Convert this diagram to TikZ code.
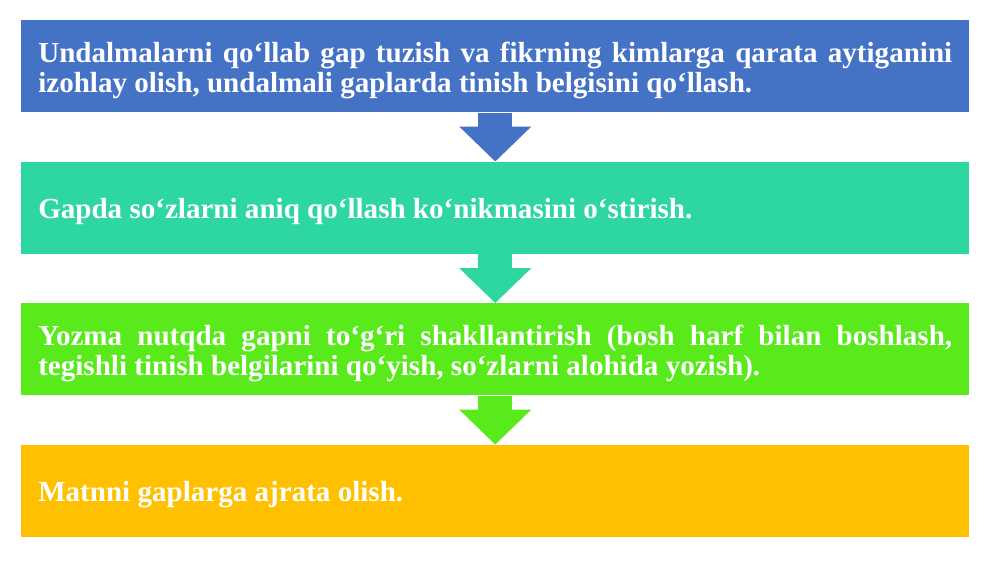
\documentclass[tikz,border=0pt]{standalone}
\usepackage{fontspec}
\setmainfont{Liberation Serif}
\usetikzlibrary{positioning,arrows.meta}
\definecolor{Kok}{HTML}{4472C4}
\definecolor{Zangori}{HTML}{2ED6A1}
\definecolor{Yashil}{HTML}{58EA1A}
\definecolor{Sariq}{HTML}{FFC000}

\begin{document}
\begin{tikzpicture}[x=1pt,y=1pt,node distance=36.75pt,
	quti/.style={fill=#1,text=white,minimum width=711pt,minimum height=69pt,
		text width=685.5pt,inner xsep=12.75pt,inner ysep=0pt,align=justify,
		font=\bfseries\fontsize{21.8}{22.5}\selectfont,text height=21pt},
	strelka/.style={draw=#1,line width=25.5pt,-{Triangle[width=52.5pt,length=26.25pt]}}]
			\useasboundingbox (0,0) rectangle (750,-421.5);
			% bloklar
			\node[quti=Kok,anchor=north west] (b1) at (15.75,-15)
				{Undalmalarni qo‘llab gap tuzish va fikrning kimlarga qarata aytiganini\linebreak
				izohlay olish, undalmali gaplarda tinish belgisini qo‘llash.};
			\node[quti=Zangori,below=of b1] (b2) {Gapda so‘zlarni aniq qo‘llash ko‘nikmasini o‘stirish.};
			\node[quti=Yashil,below=of b2] (b3)
				{Yozma nutqda gapni to‘g‘ri shakllantirish (bosh harf bilan boshlash,\linebreak
				tegishli tinish belgilarini qo‘yish, so‘zlarni alohida yozish).};
			\node[quti=Sariq,below=of b3] (b4) {Matnni gaplarga ajrata olish.};
			% strelkalar
			\draw[strelka=Kok] (b1.south) -- (b2.north);
			\draw[strelka=Zangori] (b2.south) -- (b3.north);
			\draw[strelka=Yashil] (b3.south) -- (b4.north);
		\end{tikzpicture}
\end{document}
